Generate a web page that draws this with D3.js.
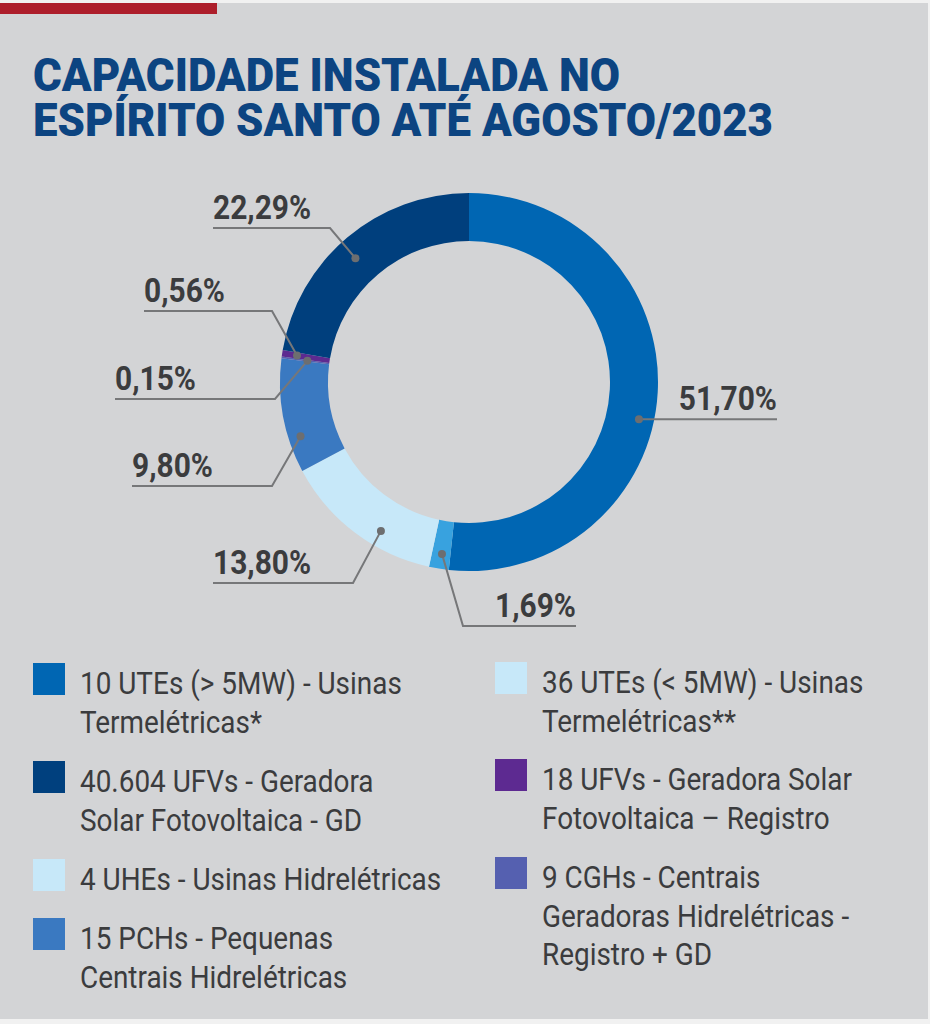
<!DOCTYPE html>
<html>
<head>
<meta charset="utf-8">
<script src="https://cdn.jsdelivr.net/npm/d3@7/dist/d3.min.js"></script>
<style>
  html, body { margin: 0; padding: 0; background: #f1f1f1; }
  svg { display: block; }
</style>
</head>
<body>
<svg id="chart" width="930" height="1024"></svg>
<script>
// ---- Data ----
const titleLines = ["CAPACIDADE INSTALADA NO", "ESPÍRITO SANTO ATÉ AGOSTO/2023"];
const sliceValues = [51.70, 1.69, 13.80, 9.80, 0.15, 0.56, 22.29];
const sliceLabels = ["51,70%", "1,69%", "13,80%", "9,80%", "0,15%", "0,56%", "22,29%"];
const sliceColors = ["#0066b3", "#38a2df", "#c7e8f9", "#3a79c1", "#5560b0", "#5d2a91", "#003f7d"];

const legendLeft = [
  ["10 UTEs (> 5MW) - Usinas", "Termelétricas*"],
  ["40.604 UFVs - Geradora", "Solar Fotovoltaica - GD"],
  ["4 UHEs - Usinas Hidrelétricas"],
  ["15 PCHs - Pequenas", "Centrais Hidrelétricas"]
];
const legendLeftColors = ["#0066b3", "#00407e", "#c7e8f9", "#3a79c1"];
const legendRight = [
  ["36 UTEs (< 5MW) - Usinas", "Termelétricas**"],
  ["18 UFVs - Geradora Solar", "Fotovoltaica – Registro"],
  ["9 CGHs - Centrais", "Geradoras Hidrelétricas -", "Registro + GD"]
];
const legendRightColors = ["#c7e8f9", "#5d2a91", "#5560b0"];

// ---- Layout ----
const W = 930, H = 1024;
const cx = 469, cy = 382, rOuter = 189, rInner = 141;
const labelLayout = [
  { frac: 0.55, r: 174, elbow: null, endX: 777 },
  { frac: 0.46, r: 174, elbow: [463, 626], endX: 576 },
  { frac: 0.37, r: 173, elbow: [353, 583], endX: 213 },
  { frac: 0.29, r: 177, elbow: [272, 486], endX: 132 },
  { frac: 0.5, r: 163, elbow: [275, 399], endX: 115 },
  { frac: 0.5, r: 174, elbow: [272, 311], endX: 144 },
  { frac: 0.47, r: 168, elbow: [330, 228], endX: 213 }
];
const textColor = "#3b3c3e";
const legendCondense = 0.9;
const labelCondense = 0.88;

const svg = d3.select("#chart");

function condenseText(t, k) {
  const w = t.node().getComputedTextLength();
  t.attr("textLength", w * k).attr("lengthAdjust", "spacingAndGlyphs");
}

// background panel
svg.append("rect").attr("x", 0).attr("y", 3).attr("width", 928).attr("height", 1016).attr("fill", "#d3d4d6");
svg.append("rect").attr("x", 0).attr("y", 3).attr("width", 217).attr("height", 11).attr("fill", "#ad1e2b");

// title (single text element, one tspan per line)
const titleWidths = [587, 740];
const titleBase = [91, 136];
const title = svg.append("text")
  .attr("font-family", "Roboto, 'Open Sans', sans-serif")
  .attr("font-weight", 900)
  .attr("font-size", 47)
  .attr("fill", "#0c4481");
titleLines.forEach((t, i) => {
  title.append("tspan")
    .attr("x", 33).attr("y", titleBase[i])
    .attr("textLength", titleWidths[i])
    .attr("lengthAdjust", "spacingAndGlyphs")
    .text(t);
});

// donut
const pie = d3.pie().sort(null).value(d => d).startAngle(0).endAngle(2 * Math.PI);
const arcs = pie(sliceValues);
const arc = d3.arc().innerRadius(rInner).outerRadius(rOuter);
const g = svg.append("g").attr("transform", `translate(${cx},${cy})`);
g.selectAll("path").data(arcs).join("path")
  .attr("d", arc)
  .attr("fill", (d, i) => sliceColors[i]);

// labels
arcs.forEach((a, i) => {
  const L = labelLayout[i];
  const ang = a.startAngle + L.frac * (a.endAngle - a.startAngle);
  const dx = cx + L.r * Math.sin(ang), dy = cy - L.r * Math.cos(ang);
  const el = L.elbow ? L.elbow : [dx, dy];
  const lineY = el[1];
  svg.append("polyline")
    .attr("points", [[dx, dy], el, [L.endX, lineY]].map(p => p.join(",")).join(" "))
    .attr("fill", "none").attr("stroke", "#767779").attr("stroke-width", 2);
  svg.append("circle").attr("cx", dx).attr("cy", dy).attr("r", 4).attr("fill", "#6d6e70");
  const right = L.endX > el[0];
  const t = svg.append("text")
    .attr("x", L.endX).attr("y", lineY - 9)
    .attr("text-anchor", right ? "end" : "start")
    .attr("font-family", "Roboto, sans-serif")
    .attr("font-weight", 700)
    .attr("font-size", 34)
    .attr("fill", textColor)
    .text(sliceLabels[i]);
  condenseText(t, labelCondense);
});

// legend
function drawLegend(items, colors, swX, txX, swYs) {
  items.forEach((lines, i) => {
    const y0 = swYs[i];
    svg.append("rect").attr("x", swX).attr("y", y0).attr("width", 32).attr("height", 32).attr("fill", colors[i]);
    lines.forEach((ln, j) => {
      const t = svg.append("text")
        .attr("x", txX).attr("y", y0 + 31 + j * 38.5)
        .attr("font-family", "Roboto, sans-serif")
        .attr("font-size", 31)
        .attr("fill", textColor)
        .text(ln);
      condenseText(t, legendCondense);
    });
  });
}
drawLegend(legendLeft, legendLeftColors, 33, 80, [663, 761, 859, 918]);
drawLegend(legendRight, legendRightColors, 495, 542, [662, 759, 857]);
</script>
</body>
</html>
